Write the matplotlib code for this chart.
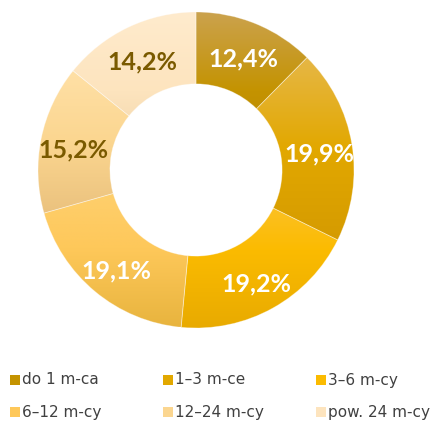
import numpy as np
import matplotlib.pyplot as plt
from matplotlib.colors import LinearSegmentedColormap
from matplotlib.patches import Rectangle

labels = ['do 1 m-ca', '1–3 m-ce', '3–6 m-cy', '6–12 m-cy', '12–24 m-cy', 'pow. 24 m-cy']
values = [12.4, 19.9, 19.2, 19.1, 15.2, 14.2]
pct_text = ['12,4%', '19,9%', '19,2%', '19,1%', '15,2%', '14,2%']

# gradient stops per slice: top, middle, bottom
grads = [
    ('#CBA24E', '#C49300', '#B68400'),
    ('#E6B746', '#E2A800', '#D59B00'),
    ('#FDC541', '#FBBB00', '#E8AA00'),
    ('#FED274', '#FEC85A', '#E8B43E'),
    ('#FFE0A6', '#FBD690', '#EBC27E'),
    ('#FFEBCD', '#FDE4BE', '#EDD0A2'),
]
txt_colors = ['white', 'white', 'white', 'white', '#7A5A00', '#7A5A00']

plt.rcParams['font.family'] = ['Lato', 'DejaVu Sans']

fig = plt.figure(figsize=(4.35, 4.21), dpi=100)
ax = fig.add_axes([0.0874, 0.2209, 0.7264, 0.7506])
ax.set_xlim(-1, 1)
ax.set_ylim(-1, 1)
ax.set_aspect('equal')
ax.axis('off')

wedges, _ = ax.pie(values, radius=1, startangle=90, counterclock=False,
                   wedgeprops=dict(width=0.455, edgecolor='none', linewidth=0))

# fill each wedge with a vertical gradient
for w, g in zip(wedges, grads):
    w.set_facecolor('none')
    path = w.get_path()
    v = path.vertices
    x0, x1 = v[:, 0].min(), v[:, 0].max()
    y0, y1 = v[:, 1].min(), v[:, 1].max()
    cmap = LinearSegmentedColormap.from_list('g', [g[2], g[1], g[0]])
    grad = np.linspace(0, 1, 256).reshape(-1, 1)
    im = ax.imshow(grad, cmap=cmap, extent=[x0, x1, y0, y1], origin='lower',
                   aspect='auto', zorder=1, interpolation='bilinear')
    im.set_clip_path(w)

# thin separators
ax.pie(values, radius=1, startangle=90, counterclock=False,
       colors=['none'] * len(values),
       wedgeprops=dict(width=0.455, edgecolor=(1, 1, 1, 0.35), linewidth=0.6))

ax.set_xlim(-1, 1)
ax.set_ylim(-1, 1)

# percentage labels
start = 90.0
for val, t, c in zip(values, pct_text, txt_colors):
    mid = np.deg2rad(start - val * 3.6 / 2)
    r = 0.79
    ax.text(r * np.cos(mid), r * np.sin(mid) - 0.03, t, ha='center', va='center',
            fontsize=18, fontweight='bold', color=c, zorder=5)
    start -= val * 3.6

# legend: two rows of three
col_x = [10, 163, 316]
row_y = [380, 412]
W, H = 435.0, 421.0
for i, lab in enumerate(labels):
    r, c = divmod(i, 3)
    x = col_x[c]
    y = row_y[r]
    fig.patches.append(Rectangle((x / W, 1 - (y + 5) / H), 10 / W, 10 / H,
                                 transform=fig.transFigure, facecolor=grads[i][1],
                                 edgecolor='none'))
    fig.text((x + 12) / W, 1 - y / H, lab, ha='left', va='center',
             fontsize=11, color='#404040', family=['DejaVu Sans'])

fig.savefig('out.png', dpi=100)
